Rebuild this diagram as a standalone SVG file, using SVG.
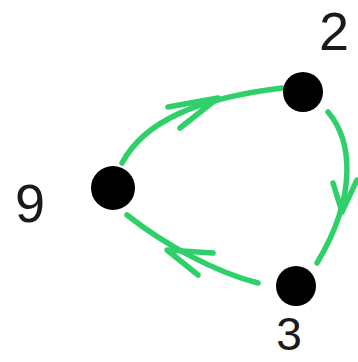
<svg xmlns="http://www.w3.org/2000/svg" width="358" height="362" viewBox="0 0 358 362">
<style>
.edge{fill:none;stroke:#2fd06a;stroke-width:5.5;stroke-linecap:round;stroke-linejoin:round}
.dot{fill:#000}
.lbl{font-family:"Liberation Sans",Arial,sans-serif;fill:#1a1a1a;text-anchor:middle}
</style>
<rect width="358" height="362" fill="#fff"/>
<g id="connectors">
  <g id="e-9-2">
    <path class="edge" d="M122,163 C145,120 200,98 282,88"/>
    <path class="edge" d="M168,107 L218,98 L180,128"/>
  </g>
  <g id="e-2-3">
    <path class="edge" d="M328,112 C352,140 358,195 317,263"/>
    <path class="edge" d="M333,183 L342,212 L357,180"/>
  </g>
  <g id="e-3-9">
    <path class="edge" d="M258,283 C215,272 165,245 127,215"/>
    <path class="edge" d="M213,253 L167,250 L198,275"/>
  </g>
</g>
<g id="node-2">
  <circle class="dot" cx="303" cy="92" r="20"/>
  <text class="lbl" x="334" y="50" font-size="54">2</text>
</g>
<g id="node-9">
  <circle class="dot" cx="113" cy="188" r="22"/>
  <text class="lbl" x="30" y="222" font-size="54">9</text>
</g>
<g id="node-3">
  <circle class="dot" cx="296" cy="286" r="20"/>
  <text class="lbl" x="289" y="350" font-size="46">3</text>
</g>
</svg>
